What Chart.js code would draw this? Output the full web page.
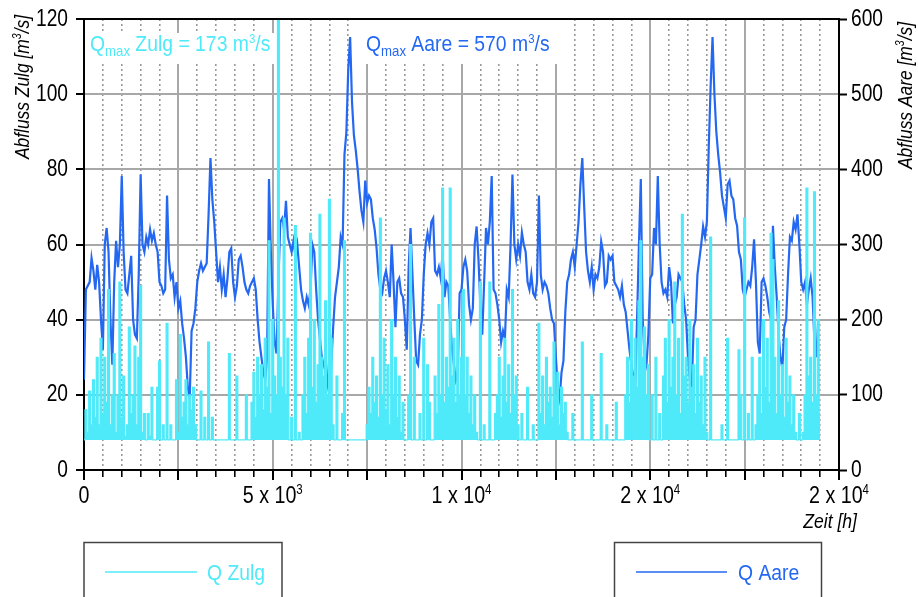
<!DOCTYPE html>
<html><head><meta charset="utf-8">
<script src="https://cdn.jsdelivr.net/npm/chart.js@4.4.1/dist/chart.umd.min.js"></script>
<style>html,body{margin:0;padding:0;background:#fff;overflow:hidden}#wrap{width:918px;height:597px;position:relative}</style>
</head><body><div id="wrap"><canvas id="c" width="918" height="597"></canvas></div>
<script>
// ---- data ----
const stepHours = 50; // sampling step of the series along "Zeit [h]"
const zulgFlow = [
8,16,10,21,12,24,14,30,12,35,15,30,18,48,12,20,31,10,20,50,
14,25,9,12,38,15,20,33,12,30,49,10,15,8,15,9,22,8,8,22,
29,8,12,8,39,8,12,8,8,24,10,36,14,18,24,12,20,16,22,12,
8,8,21,8,14,8,34,8,14,8,8,8,8,8,8,8,8,31,8,8,
8,25,8,8,8,8,20,8,8,18,26,14,30,20,28,16,35,22,61,15,
40,25,20,173,30,22,67,20,35,8,14,8,65,8,10,8,20,30,15,35,
63,22,40,18,28,68,30,25,45,20,72,35,12,8,25,8,8,15,61,8,
8,8,8,8,8,8,8,8,8,8,12,22,15,30,18,25,14,67,20,35,
16,28,12,40,20,30,14,25,10,18,8,8,20,60,8,30,8,8,15,8,
35,8,28,18,8,8,25,15,44,20,75,18,30,22,75,25,35,18,40,20,
30,48,20,30,15,25,12,20,10,8,50,8,12,8,8,50,8,8,15,20,
30,14,25,35,18,28,15,48,20,25,12,8,15,8,8,22,8,8,12,8,
8,39,15,25,12,30,18,22,14,34,20,26,12,22,15,18,10,8,8,15,
8,8,8,8,34,8,8,8,8,20,8,8,8,8,31,8,8,12,8,8,
8,8,18,8,8,8,8,20,30,18,40,25,35,22,45,61,30,38,20,28,
8,20,8,30,8,15,8,25,35,18,40,22,30,50,20,35,15,68,25,30,
18,40,22,28,15,35,18,25,12,30,10,8,62,8,8,8,8,8,12,8,
8,35,8,8,8,8,8,32,20,8,67,8,15,8,30,8,12,20,30,15,
40,22,35,18,63,56,30,15,45,20,28,14,35,18,25,12,20,10,8,15,
8,10,20,75,25,30,18,74,20,40,15
];
const aareFlow = [
120,240,245,250,282,265,240,273,250,200,
160,300,322,290,200,140,250,305,270,300,
391,290,240,235,260,285,200,180,175,260,
393,300,290,310,300,320,305,315,300,290,
250,245,235,240,365,280,255,260,230,250,
215,225,195,175,150,110,95,185,195,215,
250,265,275,265,270,275,340,415,360,330,
290,250,270,240,260,230,255,290,295,250,
230,245,280,285,270,250,240,235,245,250,
255,240,200,170,150,130,120,150,387,290,
220,170,155,250,330,335,320,358,310,300,
290,305,285,300,270,240,225,215,230,220,
240,300,290,240,200,175,150,140,130,115,
150,140,190,230,250,270,310,300,420,449,
533,576,489,445,425,400,370,345,330,385,
355,365,360,335,320,295,260,240,235,255,
265,250,230,300,250,190,250,255,235,230,
200,160,270,322,260,200,145,140,180,200,
260,300,315,300,330,335,265,260,270,255,
290,230,250,245,200,160,140,120,130,235,
240,270,280,265,220,200,215,300,324,280,
220,180,250,322,300,330,391,240,235,220,
200,170,185,175,240,230,300,393,300,280,
300,285,316,300,290,250,240,260,235,230,
250,365,260,240,250,245,235,215,200,195,
150,110,95,130,145,210,250,260,280,290,
270,300,330,380,415,350,290,265,250,270,
240,260,255,270,304,290,245,250,285,280,
285,250,245,240,230,245,220,210,185,160,
140,125,110,200,300,387,200,150,140,180,
255,260,322,300,391,300,250,235,240,230,
270,250,195,220,230,260,255,250,220,200,
150,120,110,190,200,260,280,300,324,310,
330,430,511,576,500,450,420,396,365,350,
335,380,385,365,360,335,325,290,280,240,
230,240,250,245,270,307,250,170,155,250,
255,245,230,210,200,325,270,230,180,150,
135,190,200,260,310,305,330,320,340,300,
250,240,250,220,240,255,230,170,150,200
];
const seriesNames = ['Q Zulg', 'Q Aare'];
const qmaxValues = [173, 570];
const leftTicks = [0, 20, 40, 60, 80, 100, 120];
const rightTicks = [0, 100, 200, 300, 400, 500, 600];
const xLabelValues = [0, 5000, 10000, 15000, 20000];
const xLabelTexts = ['0', '5 x 10\u00B3', '1 x 10\u2074', '2 x 10\u2074', '2 x 10\u2074'];
const leftTitle = 'Abfluss Zulg';
const rightTitle = 'Abfluss Aare';
const xTitle = 'Zeit [h]';

// ---- styling ----
const CYAN = '#4feaf9', BLUE = '#2468f2';
const FAMILY = "'Liberation Sans', Arial, sans-serif";
const GRID = '#a8a8a8';
const SUP = {'\u00B3': '3', '\u2074': '4'};

function fontOf(p) { return (p.italic ? 'italic ' : '') + p.size + 'px ' + FAMILY; }
// draws a list of text parts, horizontally condensed by sx
function drawParts(ctx, parts, x, y, o) {
  const sx = o.sx || 1;
  ctx.save();
  ctx.textBaseline = o.baseline || 'alphabetic';
  ctx.textAlign = 'left';
  let w = 0;
  for (const p of parts) { ctx.font = fontOf(p); w += ctx.measureText(p.t).width; }
  let x0 = o.align === 'right' ? x - w * sx : o.align === 'center' ? x - w * sx / 2 : x;
  ctx.translate(x0, y);
  if (o.rotate) ctx.rotate(o.rotate);
  ctx.scale(sx, 1);
  ctx.fillStyle = o.color || '#000';
  let cx = 0;
  for (const p of parts) { ctx.font = fontOf(p); ctx.fillText(p.t, cx, p.dy || 0); cx += ctx.measureText(p.t).width; }
  ctx.restore();
  return w * sx;
}
function partsFromLabel(s, size) {
  const parts = [];
  let buf = '';
  for (const ch of s) {
    if (SUP[ch]) { if (buf) parts.push({t: buf, size}); buf = ''; parts.push({t: SUP[ch], size: Math.round(size * 0.58), dy: -Math.round(size * 0.36)}); }
    else buf += ch;
  }
  if (buf) parts.push({t: buf, size});
  return parts;
}
function unitParts(prefix, size, italic) {
  return [{t: prefix + ' [m', size, italic}, {t: '3', size: Math.round(size * 0.6), dy: -Math.round(size * 0.38), italic}, {t: '/s]', size, italic}];
}
function qmaxParts(name, val) {
  return [{t: 'Q', size: 22}, {t: 'max', size: 15, dy: 5}, {t: ' ' + name + ' = ' + val + ' m', size: 22}, {t: '3', size: 13, dy: -8}, {t: '/s', size: 22}];
}
function measure(ctx, parts) { let w = 0; ctx.save(); for (const p of parts) { ctx.font = fontOf(p); w += ctx.measureText(p.t).width; } ctx.restore(); return w; }

const deco = {
  id: 'deco',
  beforeDatasetsDraw(chart) {
    const {ctx, chartArea: a} = chart;
    ctx.save();
    ctx.fillStyle = '#fff';
    ctx.fillRect(a.left + 1, 33, 283 - a.left - 1, 31);
    ctx.fillRect(356, a.top + 1, 208, 64 - a.top - 1);
    ctx.restore();
    drawParts(ctx, qmaxParts('Zulg', qmaxValues[0]), 90, 51, {sx: 0.88, color: CYAN});
    drawParts(ctx, qmaxParts('Aare', qmaxValues[1]), 366, 51, {sx: 0.88, color: BLUE});
  },
  afterDatasetsDraw(chart) {
    const {ctx, chartArea: a} = chart;
    ctx.save();
    ctx.strokeStyle = '#000'; ctx.lineWidth = 2;
    ctx.beginPath(); ctx.moveTo(a.left - 2, a.top); ctx.lineTo(a.right + 1, a.top); ctx.stroke();
    ctx.restore();
  },
  afterDraw(chart) {
    const {ctx} = chart;
    const sy = chart.scales.y, sy2 = chart.scales.y2, sxs = chart.scales.x;
    // tick labels
    for (const v of leftTicks) drawParts(ctx, [{t: String(v), size: 24}], 68, sy.getPixelForValue(v), {sx: 0.8, align: 'right', baseline: 'middle'});
    for (const v of rightTicks) drawParts(ctx, [{t: String(v), size: 24}], 851, sy2.getPixelForValue(v), {sx: 0.8, align: 'left', baseline: 'middle'});
    xLabelValues.forEach((v, k) => drawParts(ctx, partsFromLabel(xLabelTexts[k], 24), sxs.getPixelForValue(v), 503, {sx: 0.82, align: 'center'}));
    // axis titles (read bottom to top)
    let p = unitParts(leftTitle, 20, true);
    let w = measure(ctx, p) * 0.87;
    ctx.save(); ctx.translate(29, 15 + w); ctx.rotate(-Math.PI / 2);
    drawParts(ctx, p, 0, 0, {sx: 0.87}); ctx.restore();
    p = unitParts(rightTitle, 20, true);
    w = measure(ctx, p) * 0.87;
    ctx.save(); ctx.translate(912, 22 + w); ctx.rotate(-Math.PI / 2);
    drawParts(ctx, p, 0, 0, {sx: 0.87}); ctx.restore();
    drawParts(ctx, [{t: xTitle, size: 20, italic: true}], 857, 528, {sx: 0.88, align: 'right'});
    // legend boxes
    ctx.save();
    ctx.strokeStyle = '#444'; ctx.lineWidth = 1.5;
    ctx.strokeRect(84, 542.5, 198, 70);
    ctx.strokeRect(614.5, 542.5, 207, 70);
    ctx.strokeStyle = CYAN; ctx.beginPath(); ctx.moveTo(105, 572); ctx.lineTo(197, 572); ctx.stroke();
    ctx.strokeStyle = BLUE; ctx.beginPath(); ctx.moveTo(636, 572); ctx.lineTo(727, 572); ctx.stroke();
    ctx.restore();
    drawParts(ctx, [{t: seriesNames[0], size: 22}], 207, 580, {sx: 0.88, color: CYAN});
    drawParts(ctx, [{t: seriesNames[1], size: 22}], 738, 580, {sx: 0.88, color: BLUE});
  }
};

const transparent = 'rgba(0,0,0,0)';
new Chart(document.getElementById('c').getContext('2d'), {
  type: 'line',
  data: {
    datasets: [
      { label: seriesNames[0], data: zulgFlow.map((v, i) => ({x: i * stepHours, y: v})), xAxisID: 'x', yAxisID: 'y',
        borderColor: CYAN, backgroundColor: CYAN, borderWidth: 1.2, pointRadius: 0, fill: {value: 8}, stepped: 'middle', tension: 0 },
      { label: seriesNames[1], data: aareFlow.map((v, i) => ({x: i * stepHours, y: v})), xAxisID: 'x', yAxisID: 'y2',
        borderColor: BLUE, borderWidth: 2.2, pointRadius: 0, fill: false, tension: 0 }
    ]
  },
  options: {
    responsive: false, animation: false, events: [],
    layout: { padding: { top: 19, left: 0, right: 0, bottom: 0 } },
    plugins: { legend: { display: false }, tooltip: { enabled: false }, title: { display: false } },
    scales: {
      x: {
        type: 'linear', position: 'bottom', weight: 1, min: 0, max: 20000,
        afterFit: s => { s.height = 127; },
        ticks: { display: false, stepSize: 2500, autoSkip: false },
        grid: { color: GRID, lineWidth: 2, tickColor: '#000', tickWidth: 2, tickLength: 10 },
        border: { display: true, color: '#000', width: 2 }
      },
      xMinor: {
        type: 'linear', position: 'bottom', weight: 0, min: 0, max: 20000,
        afterFit: s => { s.height = 0; },
        ticks: { display: false, stepSize: 500 },
        grid: {
          color: c => (c.tick && c.tick.value % 2500 === 0) ? transparent : '#999',
          tickColor: c => (c.tick && c.tick.value % 2500 === 0) ? transparent : '#000',
          lineWidth: 1.6, tickWidth: 1.6, tickLength: 7
        },
        border: { display: false, dash: [2, 3] }
      },
      y: {
        position: 'left', min: 0, max: 120,
        afterFit: s => { s.width = 84; },
        ticks: { display: false, stepSize: 20 },
        grid: { color: GRID, lineWidth: 2, tickColor: '#000', tickWidth: 2, tickLength: 8 },
        border: { color: '#000', width: 2 }
      },
      y2: {
        position: 'right', min: 0, max: 600,
        afterFit: s => { s.width = 79; },
        ticks: { display: false, stepSize: 100 },
        grid: { drawOnChartArea: false, tickColor: '#000', tickWidth: 2, tickLength: 8 },
        border: { color: '#000', width: 2 }
      }
    }
  },
  plugins: [deco]
});
</script>
</body></html>
